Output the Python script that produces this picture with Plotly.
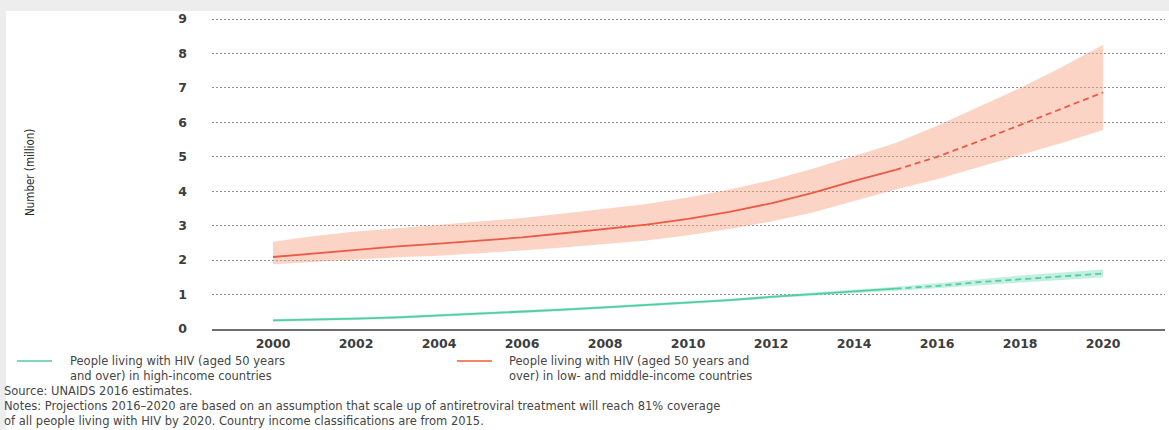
import plotly.graph_objects as go

# ---- data (million people aged 50+ living with HIV) ----
years = list(range(2000, 2021))

lmic_mid = [2.09, 2.20, 2.31, 2.40, 2.48, 2.56, 2.66, 2.78, 2.90, 3.03, 3.20,
            3.40, 3.65, 3.95, 4.30, 4.62, 5.00, 5.45, 5.92, 6.40, 6.87]
lmic_high = [2.53, 2.70, 2.83, 2.93, 3.02, 3.11, 3.22, 3.35, 3.48, 3.63, 3.82,
             4.05, 4.32, 4.65, 5.02, 5.40, 5.90, 6.45, 7.00, 7.60, 8.25]
lmic_low = [1.88, 1.95, 2.02, 2.08, 2.13, 2.20, 2.28, 2.37, 2.48, 2.57, 2.72,
            2.90, 3.12, 3.38, 3.72, 4.05, 4.35, 4.70, 5.05, 5.40, 5.78]

hic_mid = [0.25, 0.27, 0.30, 0.34, 0.39, 0.45, 0.50, 0.56, 0.63, 0.70, 0.76,
           0.84, 0.93, 1.01, 1.08, 1.17, 1.25, 1.36, 1.45, 1.53, 1.61]
hic_high = [0.29, 0.31, 0.34, 0.38, 0.43, 0.49, 0.54, 0.60, 0.67, 0.74, 0.80,
            0.88, 0.97, 1.05, 1.13, 1.23, 1.33, 1.45, 1.55, 1.64, 1.73]
hic_low = [0.21, 0.23, 0.26, 0.30, 0.35, 0.41, 0.46, 0.52, 0.59, 0.66, 0.72,
           0.80, 0.89, 0.97, 1.03, 1.11, 1.18, 1.27, 1.35, 1.42, 1.50]

projection_start = 2015

y_ticks = list(range(0, 10))
x_ticks = list(range(2000, 2021, 2))

legend_hic = ["People living with HIV (aged 50 years", "and over) in high-income countries"]
legend_lmic = ["People living with HIV (aged 50 years and", "over) in low- and middle-income countries"]
source_lines = [
    "Source: UNAIDS 2016 estimates.",
    "Notes: Projections 2016\u20132020 are based on an assumption that scale up of antiretroviral treatment will reach 81% coverage",
    "of all people living with HIV by 2020. Country income classifications are from 2015.",
]
y_title = "Number (million)"

# ---- styles ----
RED = "#ea5a44"
RED_BAND = "rgba(247,160,128,0.45)"
RED_KEY = "#f08866"
GREEN = "#52cfa2"
GREEN_BAND = "rgba(120,220,185,0.45)"
GREEN_KEY = "#7fd8bd"
TEXT = "#3d3d3d"

W, H = 1169, 430
L, R, T, B = 212, 4, 18, 101
PW, PH = W - L - R, H - T - B


def px(x):
    return (x - L) / PW


def py(y):
    return (H - B - y) / PH


def split(xs, ys):
    hist = [(x, y) for x, y in zip(xs, ys) if x <= projection_start]
    proj = [(x, y) for x, y in zip(xs, ys) if x >= projection_start]
    return list(zip(*hist)), list(zip(*proj))


fig = go.Figure()

for lo, hi, band in [(lmic_low, lmic_high, RED_BAND), (hic_low, hic_high, GREEN_BAND)]:
    fig.add_trace(go.Scatter(x=years, y=lo, mode="lines", line=dict(width=0),
                             hoverinfo="skip", showlegend=False))
    fig.add_trace(go.Scatter(x=years, y=hi, mode="lines", line=dict(width=0),
                             fill="tonexty", fillcolor=band, hoverinfo="skip",
                             showlegend=False))

for mid, color in [(lmic_mid, RED), (hic_mid, GREEN)]:
    (hx, hy), (fx, fy) = split(years, mid)
    fig.add_trace(go.Scatter(x=hx, y=hy, mode="lines",
                             line=dict(color=color, width=1.8), showlegend=False))
    fig.add_trace(go.Scatter(x=fx, y=fy, mode="lines",
                             line=dict(color=color, width=1.8, dash="6px,4px"),
                             showlegend=False))

shapes = [
    # page frame shading along the top and left edges
    dict(type="rect", xref="paper", yref="paper", x0=px(0), x1=px(W), y0=py(11), y1=py(0),
         fillcolor="#ededed", line=dict(width=0), layer="below"),
    dict(type="rect", xref="paper", yref="paper", x0=px(0), x1=px(6), y0=py(H), y1=py(0),
         fillcolor="#ededed", line=dict(width=0), layer="below"),
    # legend keys
    dict(type="line", xref="paper", yref="paper", x0=px(17), x1=px(52), y0=py(361), y1=py(361),
         line=dict(color=GREEN_KEY, width=2)),
    dict(type="line", xref="paper", yref="paper", x0=px(457), x1=px(492), y0=py(361), y1=py(361),
         line=dict(color=RED_KEY, width=2)),
]

font_txt = dict(family="DejaVu Sans, Verdana, sans-serif", size=11.5, color="#454545")
annotations = [
    dict(text="<br>".join(legend_hic), x=px(68), y=py(352), xref="paper", yref="paper",
         xanchor="left", yanchor="top", align="left", showarrow=False, font=font_txt),
    dict(text="<br>".join(legend_lmic), x=px(507), y=py(352), xref="paper", yref="paper",
         xanchor="left", yanchor="top", align="left", showarrow=False, font=font_txt),
    dict(text="<br>".join(source_lines), x=px(2), y=py(382), xref="paper", yref="paper",
         xanchor="left", yanchor="top", align="left", showarrow=False, font=font_txt),
    dict(text=y_title, x=px(30), y=py(173), xref="paper", yref="paper",
         xanchor="center", yanchor="middle", textangle=-90, showarrow=False,
         font=dict(family="DejaVu Sans Condensed, Liberation Sans Narrow, sans-serif",
                   size=11.5, color="#2a2a2a")),
]

tick_font = dict(family="DejaVu Sans, sans-serif", size=12.5, color=TEXT, weight="bold")

fig.update_layout(
    width=W, height=H, autosize=False,
    margin=dict(l=L, r=R, t=T, b=B, pad=0),
    paper_bgcolor="white", plot_bgcolor="white",
    showlegend=False,
    shapes=shapes,
    annotations=annotations,
    xaxis=dict(range=[1998.53, 2021.49], tickvals=x_ticks, ticks="", showgrid=False,
               zeroline=False, showline=True, linecolor="#6f6f6f", linewidth=1.5,
               tickfont=tick_font, ticklabelstandoff=2),
    yaxis=dict(range=[0, 9.03], tickvals=y_ticks, ticks="", showgrid=True,
               gridcolor="#8f8f8f", griddash="2px,2px", gridwidth=1,
               zeroline=False, showline=False, tickfont=tick_font,
               ticklabelstandoff=24),
)

fig.write_html("out.html")
